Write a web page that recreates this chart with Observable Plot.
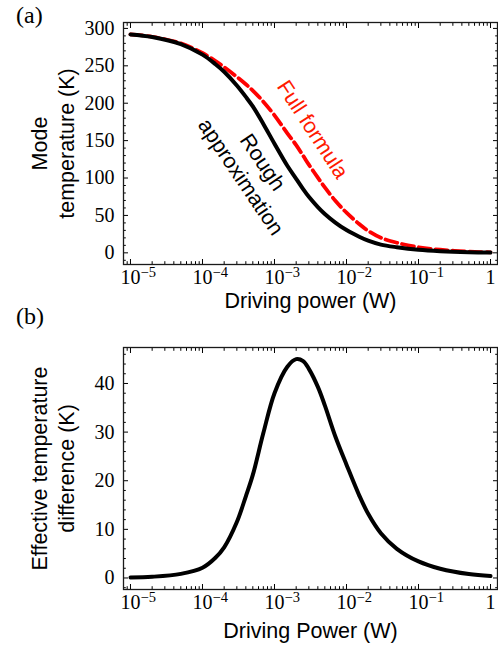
<!DOCTYPE html>
<html>
<head>
<meta charset="utf-8">
<script src="https://cdn.jsdelivr.net/npm/d3@7"></script>
<script src="https://cdn.jsdelivr.net/npm/@observablehq/plot@0.6"></script>
<style>
  html, body { margin: 0; padding: 0; background: #fff; }
  #wrap { position: relative; width: 498px; height: 645px; overflow: hidden; background: #fff; }
  .panel { position: absolute; left: 0; }
  .tag { position: absolute; left: 16px; z-index: 5; font-family: "Liberation Serif", serif; font-size: 24px; line-height: 1; color: #000; }
</style>
</head>
<body>
<div id="wrap">
  <div id="panelA" class="panel" style="top:0px"></div>
  <div id="panelB" class="panel" style="top:310px"></div>
  <div class="tag" style="top:3px">(a)</div>
  <div class="tag" style="top:304px">(b)</div>
</div>
<script>
// ---- data ----
const power = [1e-5, 2e-5, 5e-5, 1e-4, 1.5e-4, 2e-4, 3e-4, 4e-4, 5e-4, 7e-4, 1e-3, 1.5e-3, 2e-3, 2.5e-3, 3e-3, 4e-3, 5e-3, 7e-3, 1e-2, 1.5e-2, 2e-2, 3e-2, 5e-2, 0.1, 0.2, 0.5, 1];
const roughApprox = [292, 288.6, 279.1, 265, 252.5, 242, 223.7, 208.5, 195.7, 172.3, 145.8, 116.7, 99, 85.2, 74.9, 61.2, 52, 40.5, 30.4, 21.5, 16.2, 11, 7.5, 4.1, 2.2, 0.8, 0.3];
const fullFormula = [292.1, 288.85, 279.95, 267.1, 256.6, 248.3, 235.2, 225.3, 216.9, 202.1, 183.8, 160.1, 144, 129.8, 117.9, 100.5, 87.5, 69.6, 53.7, 38.5, 29.4, 20.2, 13.5, 7.5, 4.1, 1.6, 0.7];
const tempDifference = [0.1, 0.25, 0.85, 2.1, 4.1, 6.3, 11.5, 16.8, 21.2, 29.8, 38, 43.4, 45, 44.6, 43, 39.3, 35.5, 29.1, 23.3, 17, 13.2, 9.2, 6, 3.4, 1.9, 0.8, 0.4];

// tick values / labels
const xMajor = [1e-5, 1e-4, 1e-3, 1e-2, 1e-1, 1];
const xMinor = [9e-6].concat(...[1e-5, 1e-4, 1e-3, 1e-2, 1e-1].map(d => [2,3,4,5,6,7,8,9].map(m => +(m * d).toPrecision(3))));
const yMajorTop = [0, 50, 100, 150, 200, 250, 300];
const yMinorTop = d3.range(-10, 301, 10).filter(v => v % 50 !== 0);
const yMajorBot = [0, 10, 20, 30, 40];
const yMinorBot = d3.range(-2, 47, 2).filter(v => v % 10 !== 0);

// titles and annotations
const xTitleTop = "Driving power (W)";
const yTitleTop = "Mode\ntemperature (K)";
const xTitleBot = "Driving Power (W)";
const yTitleBot = "Effective temperature\ndifference (K)";
const noteFull = {text: "Full formula", x: 3.37e-3, y: 164.8, angle: 57};
const noteRough = {text: "Rough\napproximation", x: 5.0e-4, y: 112.3, angle: 56};

const xDomain = [8e-6, 1.25];
const SANS = '"Liberation Sans", Arial, sans-serif';
const SERIF = '"Liberation Serif", serif';
const FS = 21.5;

function tickAxes() {
  const out = [];
  for (const anchor of ["bottom", "top"]) {
    out.push(Plot.axisX({anchor, ticks: xMajor, tickSize: -5, tickFormat: () => "", label: null}));
    out.push(Plot.axisX({anchor, ticks: xMinor, tickSize: -2.8, tickFormat: () => "", label: null}));
  }
  return out;
}
function yTickAxes(major, minor) {
  const out = [];
  for (const anchor of ["left", "right"]) {
    out.push(Plot.axisY({anchor, ticks: major, tickSize: -5, tickFormat: () => "", label: null}));
    out.push(Plot.axisY({anchor, ticks: minor, tickSize: -2.8, tickFormat: () => "", label: null}));
  }
  return out;
}
const fmtPow = d => d === 1 ? "1" : "10^" + Math.round(Math.log10(d));

function fixSup(svg) {
  const ns = "http://www.w3.org/2000/svg";
  svg.querySelectorAll("text").forEach(t => {
    const s = t.textContent;
    if (s.startsWith("10^")) {
      const e = s.slice(3).replace("-", "\u2212");
      t.textContent = "";
      t.setAttribute("text-anchor", "start");
      const a = document.createElementNS(ns, "tspan");
      a.setAttribute("dx", "-10");
      a.textContent = "10";
      const b = document.createElementNS(ns, "tspan");
      b.setAttribute("dy", "-7");
      b.setAttribute("font-size", "14.5");
      b.textContent = e;
      t.append(a, b);
    }
  });
}

function panel({height, mt, mb, yDomain, yMajor, yMinor, lines, xTitle, yTitle, xTitleDy, notes}) {
  const svg = Plot.plot({
    width: 498, height,
    marginTop: mt, marginBottom: mb, marginLeft: 123, marginRight: 1,
    style: {fontFamily: SERIF, fontSize: "20px", color: "#000", background: "transparent", overflow: "visible"},
    x: {type: "log", domain: xDomain},
    y: {domain: yDomain},
    marks: [
      ...tickAxes(),
      ...yTickAxes(yMajor, yMinor),
      Plot.axisX({anchor: "bottom", ticks: xMajor, tickSize: 0, tickPadding: 5, tickFormat: fmtPow, label: null, fontSize: 20, fontFamily: SERIF}),
      Plot.axisY({anchor: "left", ticks: yMajor, tickSize: 0, tickPadding: 9, label: null, fontSize: 20, fontFamily: SERIF}),
      ...lines,
      Plot.frame({stroke: "#1a1a1a", strokeWidth: 1.3}),
      Plot.text([xTitle], {text: d => d, frameAnchor: "bottom", dy: xTitleDy, textAnchor: "middle", lineAnchor: "middle", fontFamily: SANS, fontSize: FS, fill: "#000"}),
      Plot.text([yTitle], {text: d => d, frameAnchor: "left", dx: -71.4, textAnchor: "middle", lineAnchor: "middle", rotate: -90, lineHeight: 1.22, fontFamily: SANS, fontSize: FS, fill: "#000"}),
      ...notes
    ]
  });
  fixSup(svg);
  return svg;
}

const rows = power.map((p, i) => ({p, rough: roughApprox[i], full: fullFormula[i], diff: tempDifference[i]}));

const plotA = panel({
  height: 310, mt: 22, mb: 46,
  yDomain: [-15.6, 307.9], yMajor: yMajorTop, yMinor: yMinorTop,
  lines: [
    Plot.line(rows, {x: "p", y: "full", stroke: "#ff0000", strokeWidth: 3.8, strokeDasharray: "12,5", curve: "catmull-rom"}),
    Plot.line(rows, {x: "p", y: "rough", stroke: "#000", strokeWidth: 4, curve: "catmull-rom"})
  ],
  xTitle: xTitleTop, yTitle: yTitleTop, xTitleDy: 36.5,
  notes: [
    Plot.text([noteFull], {x: "x", y: "y", text: "text", rotate: noteFull.angle, fill: "#ff1a00", fontFamily: SANS, fontSize: FS}),
    Plot.text([noteRough], {x: "x", y: "y", text: "text", rotate: noteRough.angle, lineHeight: 1.22, fill: "#000", fontFamily: SANS, fontSize: FS})
  ]
});
document.getElementById("panelA").append(plotA);

const plotB = panel({
  height: 335, mt: 37, mb: 56,
  yDomain: [-2.37, 47.4], yMajor: yMajorBot, yMinor: yMinorBot,
  lines: [
    Plot.line(rows, {x: "p", y: "diff", stroke: "#000", strokeWidth: 4, curve: "catmull-rom"})
  ],
  xTitle: xTitleBot, yTitle: yTitleBot, xTitleDy: 42,
  notes: []
});
document.getElementById("panelB").append(plotB);
</script>
</body>
</html>
